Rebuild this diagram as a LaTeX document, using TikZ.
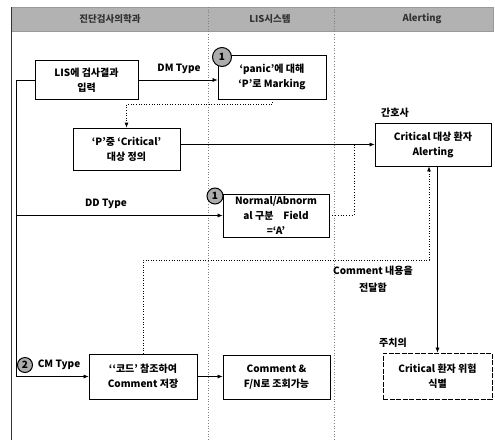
\documentclass[tikz,border=0pt]{standalone}
\usepackage{fontspec}
\setmainfont{Noto Sans CJK KR}
\usetikzlibrary{arrows.meta,calc}
\begin{document}
\begin{tikzpicture}[x=1pt,y=-1pt,
  box/.style={draw=black,line width=0.8pt,fill=white,align=center,inner sep=0pt,
    font=\bfseries\fontsize{10}{15}\selectfont},
  lbl/.style={font=\bfseries\fontsize{10}{15}\selectfont,inner sep=0pt,align=center},
  hdr/.style={font=\bfseries\fontsize{9.5}{11}\selectfont,text=black!80,inner sep=0pt},
  arr/.style={-{Latex[length=5pt,width=4pt]},line width=0.6pt},
  dotline/.style={dotted,line width=0.8pt},
  numc/.style={circle,draw=black,line width=1pt,fill=gray!65,inner sep=0pt,
    font=\bfseries\fontsize{10}{10}\selectfont}
]
\useasboundingbox (0,0) rectangle (495,445);
% header
\fill[gray!60,draw=gray!80,line width=0.6pt] (11,7) rectangle (493,31);
\node[hdr] (h1) at (110,19) {진단검사의학과};
\node[hdr] (h2) at (270,19) {LIS시스템};
\node[hdr] (h3) at (422,19) {Alerting};
% lanes
\draw[gray,dotted,line width=0.7pt] (208,7) -- (208,440);
\draw[gray,dotted,line width=0.7pt] (334,7) -- (334,440);
\draw[line width=0.6pt,black!80] (11,7) -- (11,440);
% boxes
\node[box,minimum width=103pt,minimum height=39pt] (A) at (86.5,80) {LIS에 검사결과\\입력};
\node[box,minimum width=108pt,minimum height=44pt] (B) at (272,77) {‘panic’에 대해\\‘P’로 Marking};
\node[box,minimum width=107pt,minimum height=42pt] (C) at (126.5,149) {‘P’중 ‘Critical’\\대상 정의};
\node[box,minimum width=116pt,minimum height=43pt] (D) at (433,144.5) {Critical 대상 환자\\Alerting};
\node[box,minimum width=106pt,minimum height=43pt] (E) at (276,215.5) {Normal/Abnorm\\al 구분\quad Field\\=‘A’};
\node[box,minimum width=108pt,minimum height=45pt] (F) at (143,376.5) {‘‘코드’ 참조하여\\Comment 저장};
\node[box,minimum width=107pt,minimum height=44pt] (H) at (276.5,377) {Comment \&\\F/N로 조회가능};
\node[box,dash pattern=on 5pt off 1.5pt,minimum width=109pt,minimum height=46pt] (G) at (437.5,376) {Critical 환자 위험\\식별};
% number markers
\node[numc,minimum size=19pt] (n1) at (222,57) {1};
\node[numc,minimum size=16pt] (n2) at (215,196) {1};
\node[numc,minimum size=15pt] (n3) at (25,365) {2};
% labels
\node[lbl] (l1) at (179,69) {DM Type};
\node[lbl] (l2) at (106,204) {DD Type};
\node[lbl] (l3) at (59,365) {CM Type};
\node[lbl] (l4) at (395,113) {간호사};
\node[lbl] (l5) at (393,343) {주치의};
\node[lbl,font=\bfseries\fontsize{10}{17}\selectfont] (l6) at (373,279) {Comment 내용을\\전달함};
% helper coordinates
\coordinate (lx) at (16,0);
\coordinate (mx) at (354,0);
\coordinate (cy) at (0,260);
% connectors
\draw[arr] (A.east) -- (A.east -| B.west);
\draw[arr] (A.west) -- (A.west -| lx) |- (F.west);
\draw[arr] (lx |- E.west) -- (E.west);
\draw[arr,dotline] (B.south) -- ++(0,5) -| (C.north);
\draw[arr] (C.east |- D.west) -- (D.west);
\draw[dotline] (E.east) -| (mx |- D.west);
\draw[arr,dotline] (F.north) -- (F.north |- cy) -| ([xshift=-4pt]D.south);
\draw[arr] (G.north |- D.south) -- (G.north);
\draw[arr] (F.east) -- (F.east -| H.west);
\end{tikzpicture}
\end{document}
